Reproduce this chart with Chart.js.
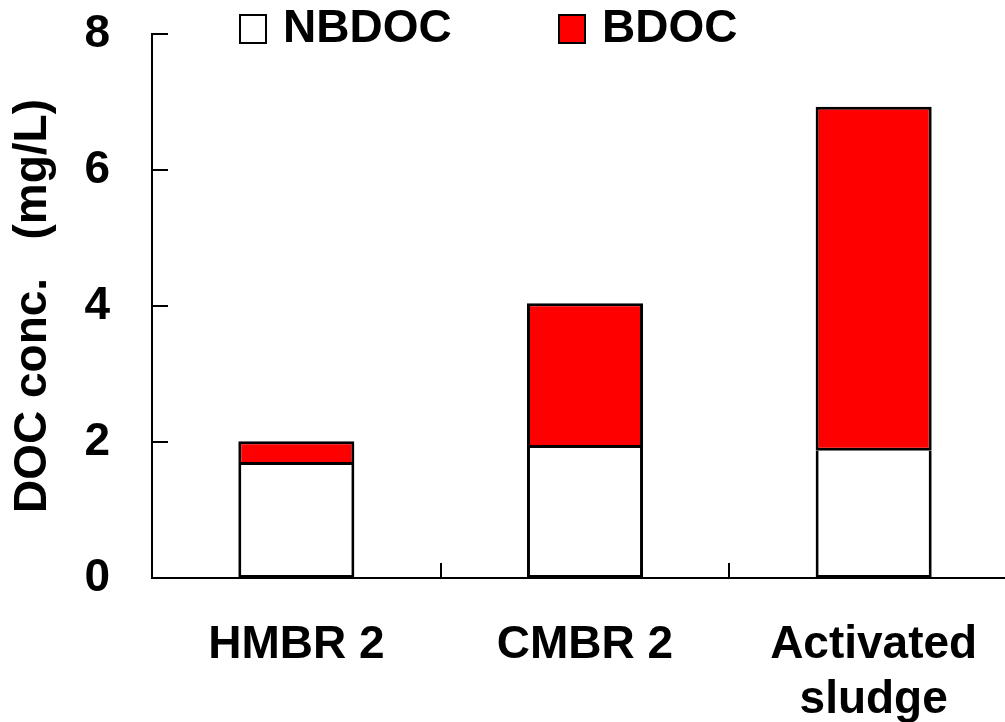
<!DOCTYPE html>
<html>
<head>
<meta charset="utf-8">
<title>DOC concentration</title>
<script src="https://cdn.jsdelivr.net/npm/chart.js@4/dist/chart.umd.min.js"></script>
<style>
    html, body { margin: 0; padding: 0; background: #fff; overflow: hidden; }
    #wrap { width: 1018px; height: 722px; }
</style>
</head>
<body>
<div id="wrap"><canvas id="docChart"></canvas></div>
<script>
// Chart data
const categories = ['HMBR 2', 'CMBR 2', ['Activated', 'sludge']];
const nbdocValues = [1.66, 1.91, 1.87];
const bdocValues = [0.35, 2.13, 5.06];
const yTicks = [0, 2, 4, 6, 8];

const FONT = "'Liberation Sans', Arial, sans-serif";

// Legend drawn at the top inside the plot, like the original figure
const topLegend = {
    id: 'topLegend',
    afterDraw(chart) {
        const ctx = chart.ctx;
        const spots = [240, 559];
        ctx.save();
        chart.data.datasets.forEach((ds, i) => {
            const x = spots[i];
            ctx.fillStyle = ds.backgroundColor;
            ctx.fillRect(x, 15, 26, 28);
            ctx.strokeStyle = '#000';
            ctx.lineWidth = 2;
            ctx.strokeRect(x, 15, 26, 28);
            ctx.fillStyle = '#000';
            ctx.font = 'bold 46px ' + FONT;
            ctx.textBaseline = 'middle';
            ctx.fillText(ds.label, x + 43, 29);
        });
        ctx.restore();
    }
};

// Inward tick marks on both axes
const innerTicks = {
    id: 'innerTicks',
    afterDraw(chart) {
        const ctx = chart.ctx;
        const area = chart.chartArea;
        const y = chart.scales.y;
        ctx.save();
        ctx.strokeStyle = '#000';
        ctx.lineWidth = 2;
        yTicks.forEach(v => {
            const py = Math.round(y.getPixelForValue(v));
            ctx.beginPath();
            ctx.moveTo(area.left, py);
            ctx.lineTo(area.left + 16, py);
            ctx.stroke();
        });
        const step = (area.right - area.left) / categories.length;
        for (let i = 1; i <= categories.length; i++) {
            const px = Math.round(area.left + i * step);
            ctx.beginPath();
            ctx.moveTo(px, area.bottom);
            ctx.lineTo(px, area.bottom - 15);
            ctx.stroke();
        }
        ctx.restore();
    }
};

const ctx = document.getElementById('docChart').getContext('2d');

new Chart(ctx, {
    type: 'bar',
    data: {
        labels: categories,
        datasets: [
            {
                label: 'NBDOC',
                data: nbdocValues,
                backgroundColor: '#ffffff',
                borderColor: '#000000',
                // top edge is shared with the BDOC bar above
                borderWidth: { top: 0, left: 3, right: 3, bottom: 3 },
                borderSkipped: false
            },
            {
                label: 'BDOC',
                data: bdocValues,
                backgroundColor: '#ff0000',
                borderColor: '#000000',
                borderWidth: 3,
                borderSkipped: false
            }
        ]
    },
    options: {
        responsive: true,
        maintainAspectRatio: false,
        animation: false,
        layout: {
            padding: { top: 34, right: 0, bottom: 0, left: 0 }
        },
        datasets: {
            bar: {
                categoryPercentage: 0.402,
                barPercentage: 1
            }
        },
        plugins: {
            legend: { display: false },
            tooltip: { enabled: false }
        },
        scales: {
            x: {
                stacked: true,
                grid: { display: false, drawTicks: false },
                border: { display: true, color: '#000', width: 2 },
                ticks: {
                    color: '#000',
                    padding: 40,
                    maxRotation: 0,
                    autoSkip: false,
                    font: { family: FONT, size: 46, weight: 'bold', lineHeight: 1.2 }
                },
                afterFit(scale) {
                    scale.height = 144;
                }
            },
            y: {
                stacked: true,
                min: 0,
                max: 8,
                grid: { display: false, drawTicks: false },
                border: { display: true, color: '#000', width: 2 },
                ticks: {
                    stepSize: 2,
                    color: '#000',
                    padding: 42,
                    font: { family: FONT, size: 46, weight: 'bold' }
                },
                title: {
                    display: true,
                    text: 'DOC conc.   (mg/L)',
                    color: '#000',
                    padding: { top: 6, bottom: 0 },
                    font: { family: FONT, size: 46, weight: 'bold' }
                },
                afterFit(scale) {
                    scale.width = 152;
                    scale.paddingTop = 0;
                    scale.paddingBottom = 0;
                }
            }
        }
    },
    plugins: [topLegend, innerTicks]
});
</script>
</body>
</html>
